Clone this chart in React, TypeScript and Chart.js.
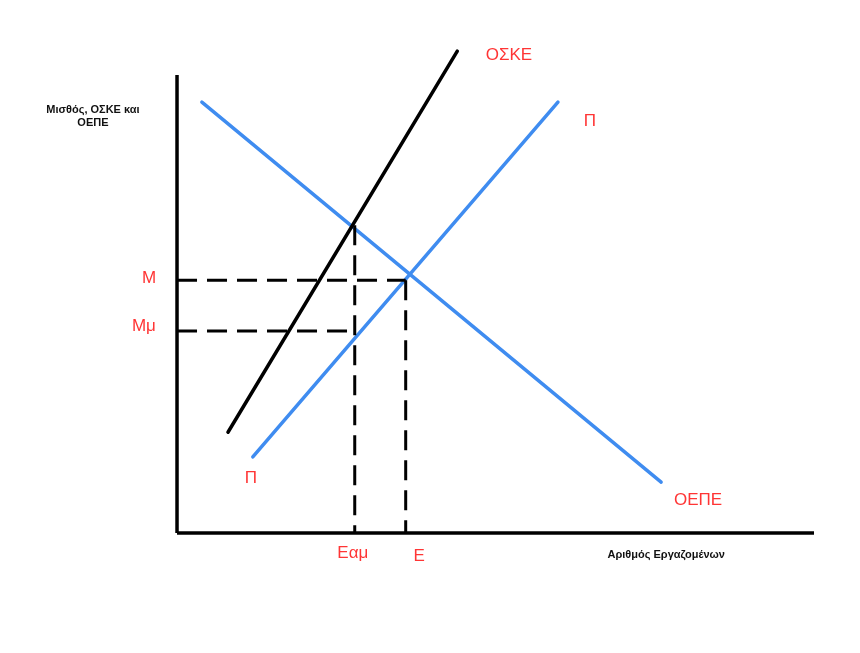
import React, { useEffect, useRef } from "react";
import { Chart, registerables } from "chart.js";

Chart.register(...registerables);

// Curves (x = number of employees, y = wage/cost units)
const oskeX = [8, 44];
const oskeY = [22, 105.2];
const oepeX = [3.9, 76];
const oepeY = [94.1, 11.1];
const supplyX = [11.9, 59.8];
const supplyY = [16.6, 94.1];

// Equilibrium levels
const wageM = 55.2;
const wageMmu = 44.1;
const empE = 35.9;
const empEam = 27.9;
const empEamTop = 67.2;

// Axis extents
const axisXMax = 100;
const axisYMax = 100;

const BLUE = "#3f8cf0";
const RED = "#ff3535";

const labelsPlugin = {
  id: "econLabels",
  afterDatasetsDraw(chart: any) {
    const { ctx, scales } = chart;
    const xs = scales.x;
    const ys = scales.y;
    const red = "17px 'Liberation Sans', Arial, sans-serif";
    const small = "bold 11px 'Liberation Sans', Arial, sans-serif";
    const items: [string, number, number, string, string][] = [
      ["ΟΣΚΕ", 52.1, 104.4, RED, red],
      ["Π", 64.8, 90.0, RED, red],
      ["Π", 11.6, 12.0, RED, red],
      ["ΟΕΠΕ", 81.8, 7.2, RED, red],
      ["M", -4.4, 55.7, RED, red],
      ["Mμ", -5.2, 45.2, RED, red],
      ["Εαμ", 27.6, -4.4, RED, red],
      ["Ε", 38.0, -5.0, RED, red],
      ["Αριθμός Εργαζομένων", 76.8, -4.8, "#111", small],
      ["Μισθός, ΟΣΚΕ και", -13.2, 92.4, "#111", small],
      ["ΟΕΠΕ", -13.2, 89.5, "#111", small],
    ];
    ctx.save();
    ctx.textAlign = "center";
    ctx.textBaseline = "middle";
    for (const [t, x, y, c, f] of items) {
      ctx.fillStyle = c;
      ctx.font = f;
      ctx.fillText(t, xs.getPixelForValue(x), ys.getPixelForValue(y));
    }
    ctx.restore();
  },
};

function pts(xs: number[], ys: number[]) {
  return xs.map((x, i) => ({ x, y: ys[i] }));
}

export default function App() {
  const ref = useRef<HTMLCanvasElement>(null);
  useEffect(() => {
    if (!ref.current) return;
    const dashed = [20, 10];
    const chart = new Chart(ref.current, {
      type: "line",
      data: {
        datasets: [
          {
            label: "y-axis",
            data: pts([0, 0], [0, axisYMax]),
            borderColor: "#000",
            borderWidth: 3.5,
            borderCapStyle: "butt",
          },
          {
            label: "x-axis",
            data: pts([0, axisXMax], [0, 0]),
            borderColor: "#000",
            borderWidth: 3.5,
            borderCapStyle: "butt",
          },
          {
            label: "M",
            data: pts([0, empE], [wageM, wageM]),
            borderColor: "#000",
            borderWidth: 3,
            borderDash: dashed,
            borderCapStyle: "butt",
          },
          {
            label: "Mμ",
            data: pts([0, empEam], [wageMmu, wageMmu]),
            borderColor: "#000",
            borderWidth: 3,
            borderDash: dashed,
            borderCapStyle: "butt",
          },
          {
            label: "Εαμ",
            data: pts([empEam, empEam], [empEamTop, 0]),
            borderColor: "#000",
            borderWidth: 3,
            borderDash: dashed,
            borderCapStyle: "butt",
          },
          {
            label: "Ε",
            data: pts([empE, empE], [wageM, 0]),
            borderColor: "#000",
            borderWidth: 3,
            borderDash: dashed,
            borderCapStyle: "butt",
          },
          {
            label: "ΟΣΚΕ",
            data: pts(oskeX, oskeY),
            borderColor: "#000",
            borderWidth: 3.5,
            borderCapStyle: "round",
          },
          {
            label: "ΟΕΠΕ",
            data: pts(oepeX, oepeY),
            borderColor: BLUE,
            borderWidth: 3.5,
            borderCapStyle: "round",
          },
          {
            label: "Π",
            data: pts(supplyX, supplyY),
            borderColor: BLUE,
            borderWidth: 3.5,
            borderCapStyle: "round",
          },
        ],
      },
      options: {
        animation: false,
        responsive: false,
        parsing: false as any,
        elements: { point: { radius: 0, hoverRadius: 0 }, line: { tension: 0 } },
        layout: { padding: 0 },
        plugins: { legend: { display: false }, tooltip: { enabled: false }, title: { display: false } },
        events: [],
        scales: {
          x: { type: "linear", display: false, min: -27.79, max: 107.22 },
          y: { type: "linear", display: false, min: -26.2, max: 116.38 },
        },
      },
      plugins: [labelsPlugin],
    } as any);
    return () => chart.destroy();
  }, []);
  return (
    <div style={{ position: "fixed", left: 0, top: 0, width: 860, height: 653, background: "#fff" }}>
      <canvas ref={ref} width={860} height={653} style={{ display: "block" }} />
    </div>
  );
}
